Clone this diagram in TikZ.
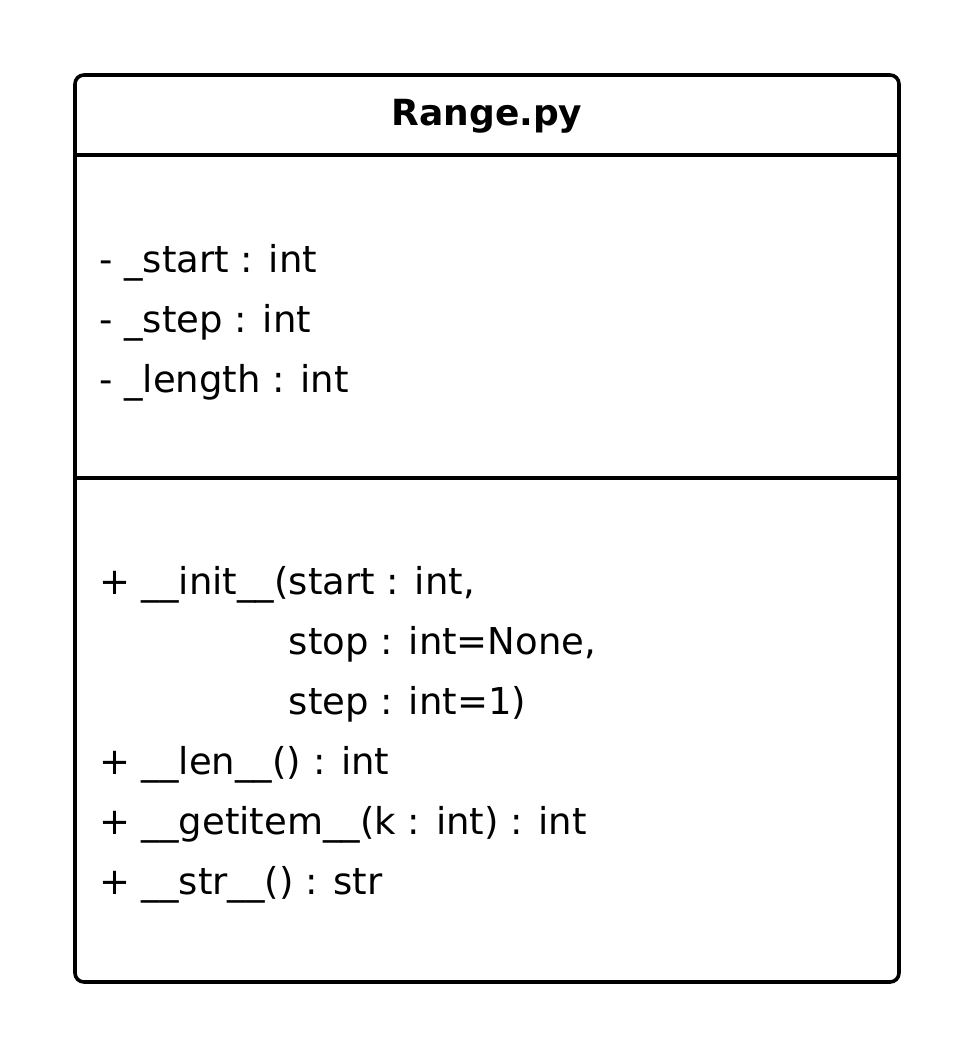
\documentclass[tikz,border=0pt]{standalone}
\usepackage{fontspec}
\setmainfont{DejaVu Sans}
\usepackage{xcolor}
\usepackage{tikz}
\usetikzlibrary{positioning}
\definecolor{cLine}{HTML}{000000}
\definecolor{cText}{HTML}{000000}
\tikzset{
  classbox/.style={draw=cLine, line width=3.6pt, rounded corners=9pt, fill=white},
  sepline/.style={draw=cLine, line width=3.6pt},
  titlelbl/.style={anchor=base, inner sep=0pt, text=cText,
                   font=\bfseries\fontsize{36}{42}\selectfont},
  member/.style={anchor=base west, inner sep=0pt, text=cText,
                 font=\fontsize{37}{44}\selectfont}
}
\newcommand{\us}{\_}

\begin{document}
\begin{tikzpicture}[x=1pt, y=-1pt]
\useasboundingbox[fill=white] (0,0) rectangle (975,1058);
\draw[classbox] (75,75) rectangle (899,982);
\node[titlelbl] (title) at (487,125.5) {Range.py};
\draw[sepline] (75,155) -- (899,155);
\draw[sepline] (75,478) -- (899,478);
% attributes
\node[member] (attrStart) at (99,272) {- \us start : int};
\node[member] (attrStep) at (99,332) {- \us step : int};
\node[member] (attrLength) at (99,392) {- \us length : int};
% methods
\node[member] (methInit) at (99,594) {+ \us\us init\us\us(start : int,};
\node[member] (methInitB) at (99,654) {\phantom{+ \us\us init\us\us(}stop : int=None,};
\node[member] (methInitC) at (99,714) {\phantom{+ \us\us init\us\us(}step : int=1)};
\node[member] (methLen) at (99,774) {+ \us\us len\us\us() : int};
\node[member] (methGet) at (99,834) {+ \us\us getitem\us\us(k : int) : int};
\node[member] (methStr) at (99,894) {+ \us\us str\us\us() : str};
\end{tikzpicture}
\end{document}
